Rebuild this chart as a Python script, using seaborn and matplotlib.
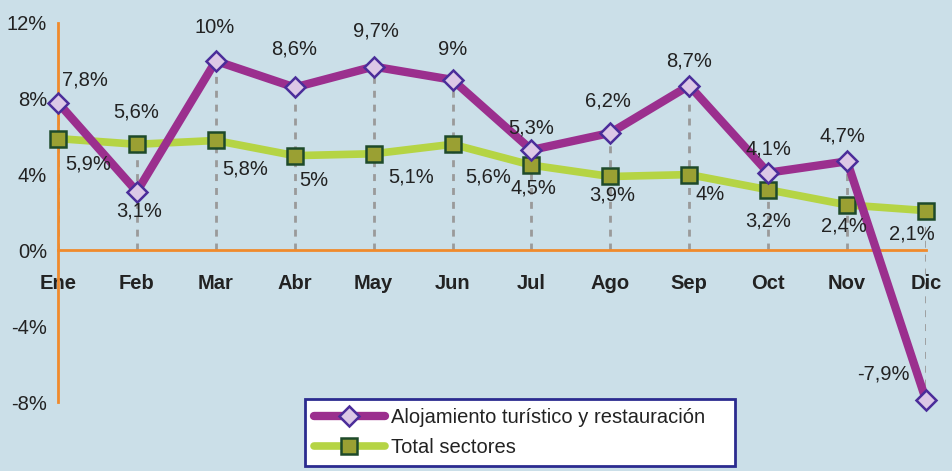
import matplotlib
matplotlib.use("Agg")
import matplotlib.pyplot as plt
import seaborn as sns
import numpy as np

months = ["Ene", "Feb", "Mar", "Abr", "May", "Jun", "Jul", "Ago", "Sep", "Oct", "Nov", "Dic"]
alojamiento = [7.8, 3.1, 10, 8.6, 9.7, 9, 5.3, 6.2, 8.7, 4.1, 4.7, -7.9]
total = [5.9, 5.6, 5.8, 5, 5.1, 5.6, 4.5, 3.9, 4, 3.2, 2.4, 2.1]
yticks = [-8, -4, 0, 4, 8, 12]
series_names = ["Alojamiento turístico y restauración", "Total sectores"]

# label offsets in pixels (layout only)
off_a = [(27, 23), (2, -19), (-1, 33), (-1, 38), (2, 36), (0, 30), (0, 22), (-2, 32),
         (0, 25), (0, 24), (-5, 25), (-43, 26)]
off_t = [(30, -25), (-1, 32), (29, -29), (19, -25), (37, -23), (36, -33), (2, -23), (2, -19),
         (21, -20), (0, -31), (-3, -21), (-14, -23)]

sns.set_theme(style="white")
plt.rcParams['font.family'] = ['Liberation Sans', 'DejaVu Sans']

BG = "#cbdfe8"
ORANGE = "#f08a2c"
PURPLE = "#9b2f8e"
GREEN = "#b5d444"
TXT = "#222222"
FS = 14.5

fig = plt.figure(figsize=(9.53, 4.71), dpi=100)
fig.patch.set_facecolor(BG)
ax = fig.add_axes([58/953, (471-402)/471, (926-58)/953, (402-23)/471])
ax.set_facecolor(BG)

x = np.arange(len(months))

# drop lines
lo = np.minimum(np.minimum(alojamiento, total), 0)
hi = np.maximum(alojamiento, total)
ax.vlines(x, lo, hi, colors="#9a9a9a", linestyles=(0, (2.5, 2.5)), linewidth=2.0, zorder=1)

sns.lineplot(x=x, y=alojamiento, ax=ax, color=PURPLE, linewidth=6, marker="D",
             markersize=10, markerfacecolor="#dcc8e6", markeredgecolor="#4b2d9a",
             markeredgewidth=1.8, label=series_names[0], clip_on=False, zorder=4)
sns.lineplot(x=x, y=total, ax=ax, color=GREEN, linewidth=5.5, marker="s",
             markersize=11, markerfacecolor="#9aa033", markeredgecolor="#1e4a2a",
             markeredgewidth=1.8, label=series_names[1], clip_on=False, zorder=3)

for i in range(len(months)):
    ax.annotate(f"{alojamiento[i]:g}%".replace(".", ","), (x[i], alojamiento[i]),
                xytext=off_a[i], textcoords="offset pixels", ha="center", va="center",
                fontsize=FS, color=TXT, zorder=6)
    ax.annotate(f"{total[i]:g}%".replace(".", ","), (x[i], total[i]),
                xytext=off_t[i], textcoords="offset pixels", ha="center", va="center",
                fontsize=FS, color=TXT, zorder=6)

for s in ["top", "right"]:
    ax.spines[s].set_visible(False)
ax.spines["bottom"].set_position(("data", 0))
ax.spines["bottom"].set_color(ORANGE)
ax.spines["left"].set_color(ORANGE)
ax.spines["bottom"].set_linewidth(2)
ax.spines["left"].set_linewidth(2)

ax.set_xlim(0, 11)
ax.set_ylim(-8, 12)
ax.set_yticks(yticks)
ax.set_yticklabels([f"{v}%" for v in yticks], fontsize=FS, color=TXT)
ax.set_xticks(x)
ax.set_xticklabels(months, fontsize=FS, fontweight="bold", color=TXT)
ax.tick_params(axis="x", direction="out", length=5, width=1.5, color=ORANGE, pad=12)
ax.tick_params(axis="y", direction="out", length=5, width=1.5, color=ORANGE, pad=3)
ax.set_xlabel("")
ax.set_ylabel("")

leg = ax.legend(loc="lower left", bbox_to_anchor=(305/953, 5/471, (735-305)/953, (466-388)/471),
                bbox_transform=fig.transFigure, mode="expand", frameon=True, fancybox=False,
                fontsize=FS, handlelength=3.5, borderpad=0.45, labelspacing=0.55,
                handletextpad=0.3, borderaxespad=0)
for t in leg.get_texts():
    t.set_color(TXT)
leg.get_frame().set_edgecolor("#2b2b8f")
leg.get_frame().set_linewidth(2)
leg.get_frame().set_facecolor("white")
leg.get_frame().set_alpha(1)

fig.savefig("out.png", dpi=100, facecolor=BG)
